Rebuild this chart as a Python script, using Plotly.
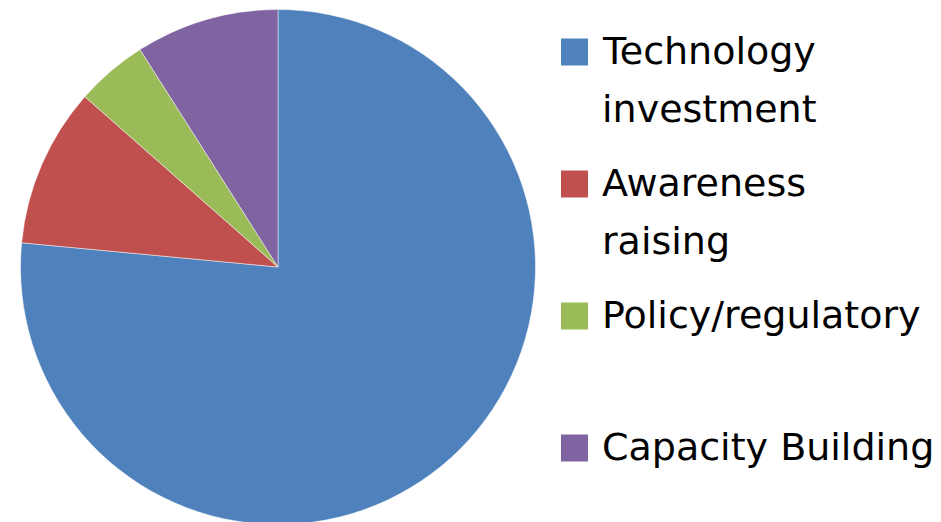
import plotly.graph_objects as go

labels = ["Technology investment", "Awareness raising", "Policy/regulatory", "Capacity Building"]
legend_text = ["Technology<br>investment", "Awareness<br>raising", "Policy/regulatory", "Capacity Building"]
values = [76.5, 10.0, 4.5, 9.0]
colors = ["#4F81BD", "#C0504D", "#9BBB59", "#8064A2"]

W, H = 941, 522
OFF = 8  # page body margin

cx, cy0, r = 278 - OFF, 267 - OFF, 257.5

fig = go.Figure(go.Pie(
    labels=labels,
    values=values,
    sort=False,
    direction="clockwise",
    rotation=0,
    marker=dict(colors=colors, line=dict(color="rgba(255,255,255,0.6)", width=0.8)),
    textinfo="none",
    hoverinfo="label+percent",
    showlegend=False,
    domain=dict(x=[(cx - r) / W, (cx + r) / W],
                y=[1 - (cy0 + r) / H, 1 - (cy0 - r) / H]),
))

# custom legend (large squares + wrapped text)
sq = 27
sq_left = 561 - OFF
text_left = 600 - OFF
first_center = 52 - OFF
item_gap = 132
line_gap = 58
text_shift = -1
font = dict(family="'DejaVu Sans', sans-serif", size=38, color="#000000")

shapes = []
annotations = []
for i, (txt, col) in enumerate(zip(legend_text, colors)):
    cy = first_center + i * item_gap
    shapes.append(dict(
        type="rect", xref="paper", yref="paper",
        x0=sq_left / W, x1=(sq_left + sq) / W,
        y0=1 - (cy + sq / 2) / H, y1=1 - (cy - sq / 2) / H,
        fillcolor=col, line=dict(width=0),
    ))
    for j, line in enumerate(txt.split("<br>")):
        ly = cy + j * line_gap + text_shift
        annotations.append(dict(
            text=line, xref="paper", yref="paper",
            x=text_left / W, y=1 - ly / H,
            xanchor="left", yanchor="middle",
            showarrow=False, font=font,
        ))

fig.update_layout(
    width=W, height=H,
    margin=dict(l=0, r=0, t=0, b=0),
    paper_bgcolor="white",
    plot_bgcolor="white",
    shapes=shapes,
    annotations=annotations,
)

fig.write_html("out.html")
